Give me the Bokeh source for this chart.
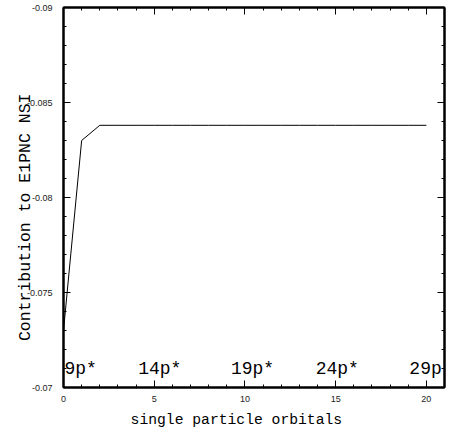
from bokeh.plotting import figure
from bokeh.models import Range1d, FixedTicker, LinearAxis, ColumnDataSource
from bokeh.core.properties import value
from bokeh.embed import file_html
from bokeh.resources import INLINE

# ---- data ----
orbital_index = [0, 1, 2, 3, 4, 5, 6, 7, 8, 9, 10, 11, 12, 13, 14, 15, 16, 17, 18, 19, 20]
contribution = [-0.0730, -0.0830, -0.0838, -0.0838, -0.0838, -0.0838, -0.0838,
                -0.0838, -0.0838, -0.0838, -0.0838, -0.0838, -0.0838, -0.0838,
                -0.0838, -0.0838, -0.0838, -0.0838, -0.0838, -0.0838, -0.0838]

orbital_labels = ["9p*", "14p*", "19p*", "24p*", "29p*"]
orbital_label_x = [0, 5, 10, 15, 20]
orbital_label_y = [-0.071, -0.071, -0.071, -0.071, -0.071]

x_ticks = [0, 5, 10, 15, 20]
x_tick_labels = ["0", "5", "10", "15", "20"]
y_ticks = [-0.09, -0.085, -0.08, -0.075, -0.07]
y_tick_labels = ["-0.09", "-0.085", "-0.08", "-0.075", "-0.07"]

x_minor = [i for i in range(0, 22)]
y_minor = [round(-0.09 + 0.001 * i, 4) for i in range(0, 21)]

NBSP = "\u00a0"

p = figure(width=447, height=435, output_backend="svg", toolbar_location=None,
           x_range=Range1d(0, 21), y_range=Range1d(-0.07, -0.09),
           min_border_left=63, min_border_right=3, min_border_top=7, min_border_bottom=48,
           x_axis_location=None, y_axis_location=None)
p.grid.visible = False
p.outline_line_color = "black"
p.outline_line_width = 2
p.background_fill_color = "white"
p.border_fill_color = "white"


def style_axis(ax, ticks, minor, labels, show_labels):
    ax.ticker = FixedTicker(ticks=ticks, minor_ticks=minor)
    ax.axis_line_color = "black"
    ax.axis_line_width = 2
    ax.major_tick_in = 7
    ax.major_tick_out = 0
    ax.minor_tick_in = 3
    ax.minor_tick_out = 0
    ax.major_tick_line_color = "black"
    ax.minor_tick_line_color = "black"
    ax.major_tick_line_width = 1
    ax.minor_tick_line_width = 1
    if show_labels:
        ax.major_label_overrides = {t: s for t, s in zip(ticks, labels)}
        ax.major_label_text_font = "Liberation Sans"
        ax.major_label_text_font_size = "9px"
        ax.major_label_text_color = "#222222"
    else:
        ax.major_label_overrides = {t: "" for t in ticks}
        ax.major_label_standoff = 0


xb = LinearAxis()
style_axis(xb, x_ticks, x_minor, x_tick_labels, True)
xb.major_label_standoff = 8
xb.axis_label = "single particle orbitals" + NBSP * 4
xb.axis_label_text_font = "Liberation Mono"
xb.axis_label_text_font_size = "14.7px"
xb.axis_label_text_font_style = "normal"
xb.axis_label_text_color = "black"
xb.axis_label_standoff = 7
p.add_layout(xb, "below")

xt = LinearAxis()
style_axis(xt, x_ticks, x_minor, x_tick_labels, False)
p.add_layout(xt, "above")

yl = LinearAxis()
style_axis(yl, y_ticks, y_minor, y_tick_labels, True)
yl.major_label_standoff = 11
yl.axis_label = "Contribution to E1PNC NSI" + NBSP * 4
yl.axis_label_text_font = "Liberation Mono"
yl.axis_label_text_font_size = "16.5px"
yl.axis_label_text_font_style = "normal"
yl.axis_label_text_color = "black"
yl.axis_label_standoff = -11
p.add_layout(yl, "left")

yr = LinearAxis()
style_axis(yr, y_ticks, y_minor, y_tick_labels, False)
p.add_layout(yr, "right")

p.line(orbital_index, contribution, line_color="black", line_width=1)

src = ColumnDataSource(dict(x=orbital_label_x, y=orbital_label_y, text=orbital_labels,
                            dx=[1, -16, -14, -20, -17]))
p.text(x="x", y="y", text="text", x_offset="dx", source=src,
       text_font=value("Liberation Mono"), text_font_size="18px",
       text_color="black", text_baseline="alphabetic", text_align="left")

open("out.html", "w").write(file_html(p, INLINE))
